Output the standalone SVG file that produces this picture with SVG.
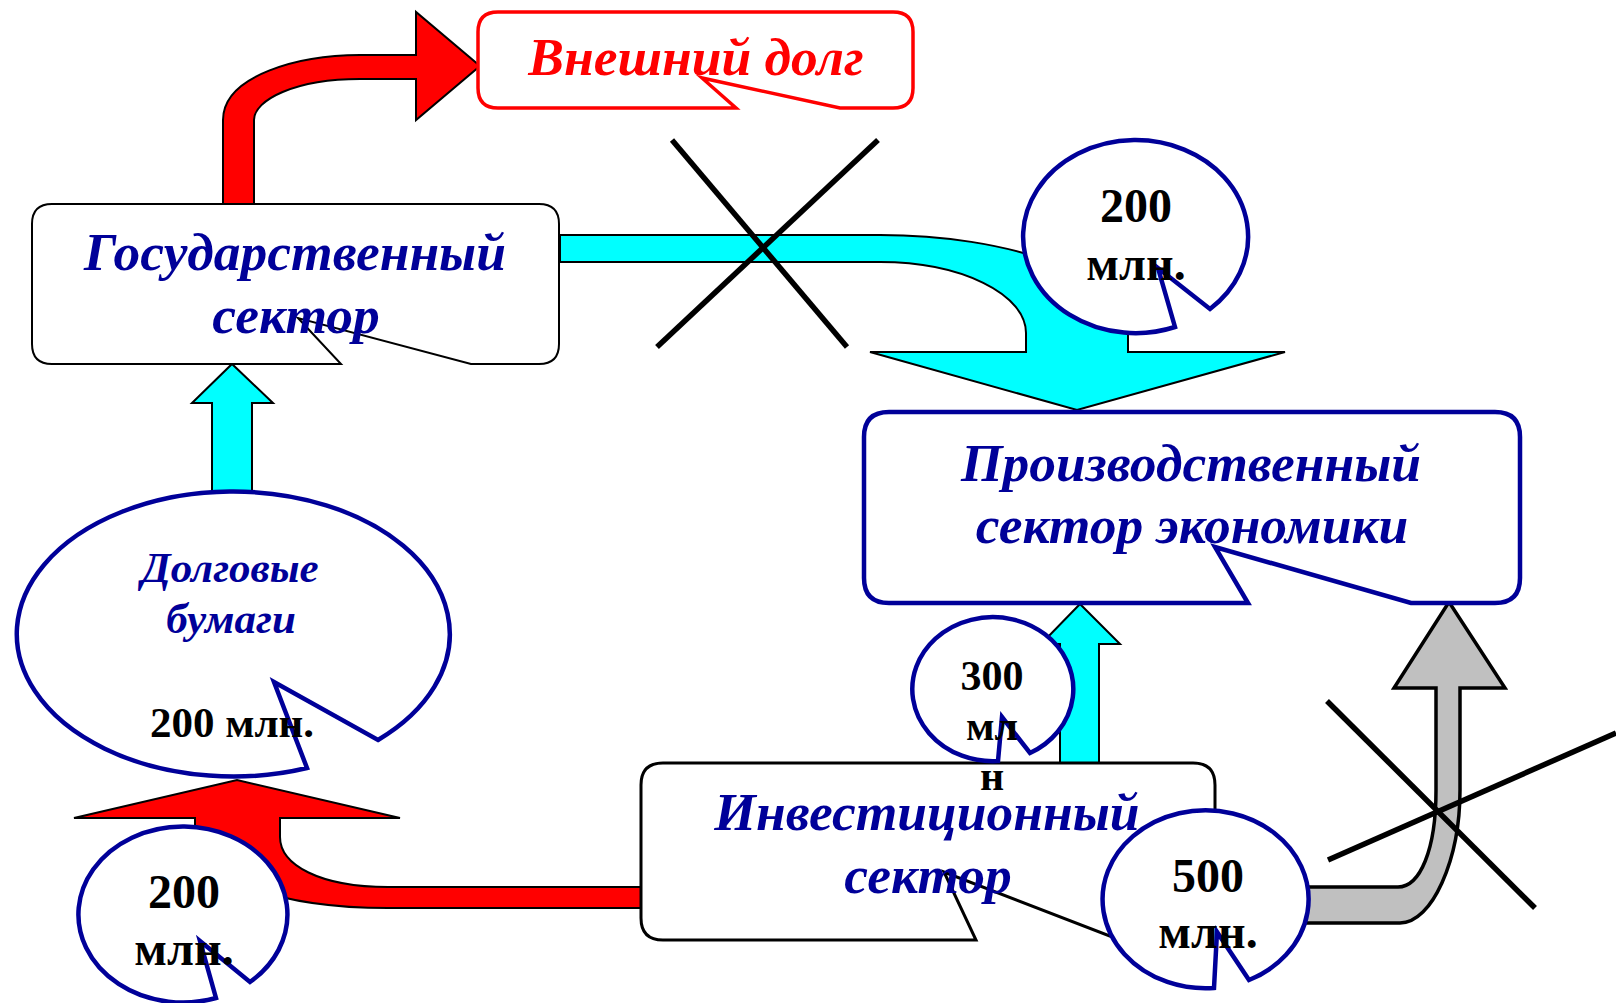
<svg xmlns="http://www.w3.org/2000/svg" width="1616" height="1003" viewBox="0 0 1616 1003">
<style>
.lbl{font-family:"Liberation Serif","Times New Roman",serif;font-weight:bold;font-style:italic;text-anchor:middle}
.blue{fill:#000099}
.red{fill:#FF0000}
.num{font-family:"Liberation Serif","Times New Roman",serif;font-weight:bold;text-anchor:middle;fill:#000000}
.bubble{fill:#FFFFFF;stroke:#000099;stroke-width:4.5;stroke-linejoin:miter}
.cyan{fill:#00FFFF;stroke:#000000;stroke-width:2}
.redarrow{fill:#FF0000;stroke:#000000;stroke-width:2}
.grey{fill:#C0C0C0;stroke:#000000;stroke-width:3.5}
.cross{stroke:#000000;stroke-width:5.5;fill:none}
</style>
<rect width="1616" height="1003" fill="#FFFFFF"/>
<g id="connectors">
  <path id="arrow-gos-external" class="redarrow" d="M223,204 V120 C223,75 300,55 360,55 H416 V12 L480,66 L416,120 V79 H360 C295,79 254,100 254,120 V204 Z"/>
  <path id="arrow-gos-prod" class="cyan" d="M560,235 H880 A248,98 0 0 1 1128,333 V352 H1285 L1077,410 L870,352 H1026 V333 A146,71 0 0 0 880,262 H560 Z"/>
  <path id="arrow-debt-gos" class="cyan" d="M212,492 V403 H192 L232,364 L273,403 H252 V492 Z"/>
  <path id="arrow-inv-prod" class="cyan" d="M1060,763 V644 H1041 L1080,604 L1120,644 H1099 V763 Z"/>
  <path id="arrow-inv-debt" class="redarrow" d="M641,887 H388 C320,887 280,865 280,837 V818 H400 L237,780 L74,818 H195 V830 C195,880 280,908 388,908 H641 Z"/>
  <path id="arrow-inv-prod-grey" class="grey" d="M1290,887 H1398 C1420,887 1436,850 1436,790 V688 H1394 L1449,602 L1505,688 H1460 V790 C1460,860 1432,923 1400,923 H1290 Z"/>
</g>
<g id="node-external-debt">
  <path d="M498,12 H893 Q913,12 913,32 V88 Q913,108 893,108 H840 L702,78 L736,108 H498 Q478,108 478,88 V32 Q478,12 498,12 Z" fill="#FFFFFF" stroke="#FF0000" stroke-width="3.5"/>
  <text class="lbl red" x="696" y="75" font-size="53.5">Внешний долг</text>
</g>
<g id="node-gos">
  <path d="M52,204 H539 Q559,204 559,224 V344 Q559,364 539,364 H471 L298,318 L341,364 H52 Q32,364 32,344 V224 Q32,204 52,204 Z" fill="#FFFFFF" stroke="#000000" stroke-width="2"/>
  <text class="lbl blue" x="295" y="270" font-size="53.5">Государственный</text>
  <text class="lbl blue" x="296" y="333" font-size="53.5">сектор</text>
</g>
<g id="node-prod">
  <path d="M889,412 H1495 Q1520,412 1520,437 V578 Q1520,603 1495,603 H1411 L1215,547 L1248,603 H889 Q864,603 864,578 V437 Q864,412 889,412 Z" fill="#FFFFFF" stroke="#000099" stroke-width="4.5"/>
  <text class="lbl blue" x="1191" y="481" font-size="53.5">Производственный</text>
  <text class="lbl blue" x="1192" y="543" font-size="53.5">сектор экономики</text>
</g>
<g id="node-debt-papers">
  <path class="bubble" d="M307,768 L274,682 L378,740 A216.5,142.5 0 1 0 307,768 Z"/>
  <text class="lbl blue" x="230" y="582" font-size="43">Долговые</text>
  <text class="lbl blue" x="231" y="633" font-size="43">бумаги</text>
  <text class="num" x="232" y="737" font-size="43">200 млн.</text>
</g>
<g id="node-inv">
  <path d="M663,763 H1193 Q1215,763 1215,785 V918 Q1215,940 1193,940 H1120 L944,872 L976,940 H663 Q641,940 641,918 V785 Q641,763 663,763 Z" fill="#FFFFFF" stroke="#000000" stroke-width="3"/>
  <text class="lbl blue" x="927" y="830" font-size="53.5">Инвестиционный</text>
  <text class="lbl blue" x="928" y="893" font-size="53.5">сектор</text>
</g>
<g id="node-bubble-200-top">
  <path class="bubble" d="M1175,327 L1158,268 L1210,309 A112.5,96.5 0 1 0 1175,327 Z"/>
  <text class="num" x="1136" y="222" font-size="48">200</text>
  <text class="num" x="1136" y="280" font-size="48">млн.</text>
</g>
<g id="node-bubble-300">
  <path class="bubble" d="M998,761 L1002,717 L1030,753 A80.5,72 0 1 0 998,761 Z"/>
  <text class="num" x="992" y="690" font-size="42">300</text>
  <text class="num" x="992" y="740" font-size="42">мл</text>
  <text class="num" x="992" y="790" font-size="42">н</text>
</g>
<g id="node-bubble-500">
  <path class="bubble" d="M1214,988 L1217,932 L1249,980 A103,89 0 1 0 1214,988 Z"/>
  <text class="num" x="1208" y="892" font-size="48">500</text>
  <text class="num" x="1208" y="948" font-size="48">млн.</text>
</g>
<g id="node-bubble-200-bottom">
  <path class="bubble" d="M216,998 L200,941 L250,982 A104.5,88 0 1 0 216,998 Z"/>
  <text class="num" x="184" y="908" font-size="48">200</text>
  <text class="num" x="184" y="965" font-size="48">млн.</text>
</g>
<g id="crosses">
  <line class="cross" x1="672" y1="140" x2="847" y2="347"/>
  <line class="cross" x1="878" y1="140" x2="657" y2="347"/>
  <line class="cross" x1="1327" y1="701" x2="1535" y2="908"/>
  <line class="cross" x1="1616" y1="733" x2="1328" y2="860"/>
</g>
</svg>
